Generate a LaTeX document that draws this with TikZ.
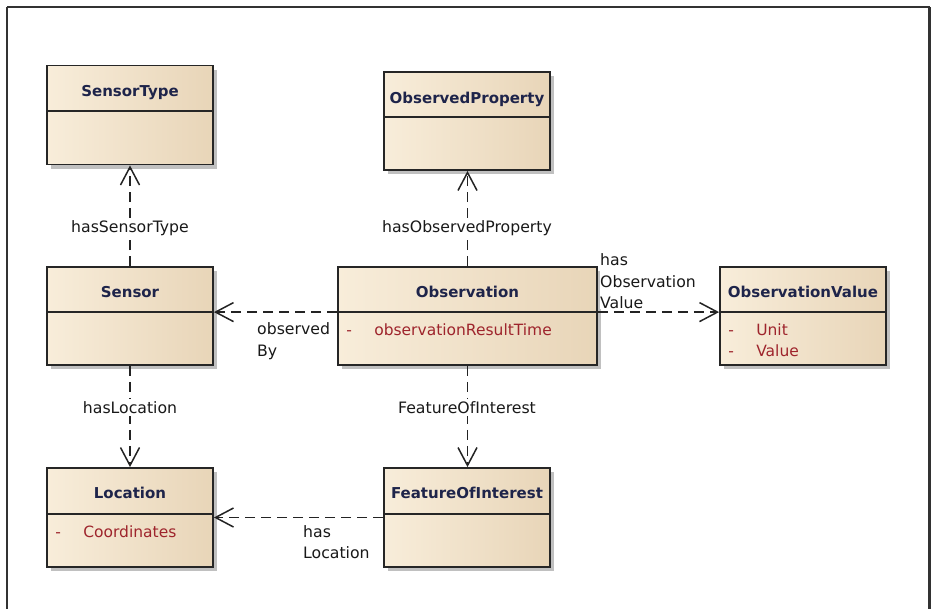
\documentclass[tikz,border=0pt]{standalone}
\usepackage{fontspec}
\setmainfont{DejaVu Sans}
\usetikzlibrary{arrows.meta,calc,shadows}

\definecolor{titleink}{RGB}{30,36,74}
\definecolor{attrink}{RGB}{158,36,44}
\definecolor{labelink}{RGB}{25,25,25}
\definecolor{boxleft}{RGB}{248,237,218}
\definecolor{boxmid}{RGB}{252,246,235}
\definecolor{boxright}{RGB}{232,213,184}
\definecolor{frameink}{RGB}{50,50,50}
\definecolor{shadowgray}{RGB}{192,192,192}
\definecolor{lineink}{RGB}{35,35,35}

\tikzset{
  umlbox/.style={rectangle, draw=black!85, line width=1.8pt, inner sep=0pt,
    minimum width=166pt, minimum height=98pt,
    left color=boxleft, middle color=boxmid, right color=boxright,
    drop shadow={shadow xshift=4pt, shadow yshift=-4pt, fill=shadowgray, opacity=1}},
  divider/.style={draw=black!85, line width=1.8pt},
  classname/.style={anchor=base, text=titleink, inner sep=0pt,
    font=\bfseries\fontsize{15}{18}\selectfont},
  attr/.style={anchor=base west, text=attrink, inner sep=0pt,
    font=\fontsize{15.5}{18}\selectfont},
  rolelabel/.style={text=labelink, fill=white, inner sep=2.5pt, align=left,
    font=\fontsize{15.7}{21.5}\selectfont},
  dep/.style={draw=lineink, line width=1.5pt, dash pattern=on 10pt off 6pt,
    -{Straight Barb[length=18pt, width=19pt, line width=1.5pt]}},
}

\begin{document}
\begin{tikzpicture}[x=1pt, y=-1pt]
  \useasboundingbox (0,0) rectangle (931,608);
  \begin{scope}
    \clip (0,0) rectangle (931,608);
    % outer diagram frame, open at the bottom
    \draw[frameink, line width=2pt] (7,7) -- (7,640);
    \draw[frameink, line width=2pt] (7,7) -- (929.5,7);
    \draw[frameink, line width=3pt] (929.5,7) -- (929.5,640);
  \end{scope}

  % class boxes
  \node[umlbox, minimum height=99pt] (sensortype) at (130,115) {};
  \node[umlbox] (observedproperty) at (467,121) {};
  \node[umlbox] (sensor) at (130,316) {};
  \node[umlbox, minimum width=259pt] (observation) at (467.5,316) {};
  \node[umlbox] (observationvalue) at (803,316) {};
  \node[umlbox, minimum height=99pt] (location) at (130,517.5) {};
  \node[umlbox, minimum height=99pt] (featureofinterest) at (467,517.5) {};

  % compartment dividers
  \foreach \b/\d in {sensortype/46, observedproperty/46, sensor/46,
                     observation/46, observationvalue/46,
                     location/47, featureofinterest/47}{
    \draw[divider] ($(\b.north west)+(0,\d)$) -- ($(\b.north east)+(0,\d)$);
  }

  % class names
  \node[classname] (nSensorType) at ($(sensortype.north)+(0,32)$) {SensorType};
  \node[classname] (nObservedProperty) at ($(observedproperty.north)+(0,32)$) {ObservedProperty};
  \node[classname] (nSensor) at ($(sensor.north)+(0,31.5)$) {Sensor};
  \node[classname] (nObservation) at ($(observation.north)+(0,31.5)$) {Observation};
  \node[classname] (nObservationValue) at ($(observationvalue.north)+(0,31.5)$) {ObservationValue};
  \node[classname] (nLocation) at ($(location.north)+(0,31.5)$) {Location};
  \node[classname] (nFeatureOfInterest) at ($(featureofinterest.north)+(0,31.5)$) {FeatureOfInterest};

  % attributes
  \node[attr] (aTimeDash) at ($(observation.north west)+(9,69)$) {-};
  \node[attr] (aTime) at ($(observation.north west)+(37,69)$) {observationResultTime};
  \node[attr] (aUnitDash) at ($(observationvalue.north west)+(9,69)$) {-};
  \node[attr] (aUnit) at ($(observationvalue.north west)+(37,69)$) {Unit};
  \node[attr] (aValueDash) at ($(observationvalue.north west)+(9,90.5)$) {-};
  \node[attr] (aValue) at ($(observationvalue.north west)+(37,90.5)$) {Value};
  \node[attr] (aCoordDash) at ($(location.north west)+(9,70)$) {-};
  \node[attr] (aCoord) at ($(location.north west)+(37,70)$) {Coordinates};

  % anchor points on the observation divider line
  \coordinate (obsLeft) at ($(observation.north west)+(0,46)$);
  \coordinate (obsRight) at ($(observation.north east)+(0,46)$);

  % dependencies
  \draw[dep] (sensor) -- (sensortype);
  \draw[dep] (observation) -- (observation.north |- observedproperty.south);
  \draw[dep] (obsLeft) -- (obsLeft -| sensor.east);
  \draw[dep] (obsRight) -- (obsRight -| observationvalue.west);
  \draw[dep] (sensor) -- (location);
  \draw[dep] (observation.south) -- (observation.south |- featureofinterest.north);
  \draw[dep] (featureofinterest) -- (location);

  % role labels
  \node[rolelabel, anchor=base] (lSensorType) at (130,232) {hasSensorType};
  \node[rolelabel, anchor=base] (lObservedProperty) at (467,232) {hasObservedProperty};
  \node[rolelabel, anchor=base] (lHasLocation) at (130,413) {hasLocation};
  \node[rolelabel, anchor=base] (lFeature) at (467,413) {FeatureOfInterest};
  \node[rolelabel, anchor=north west, inner sep=0pt] (lObservedBy) at (257,322.5) {observed\\By};
  \node[rolelabel, anchor=north west, inner sep=0pt] (lObsValue) at (600,253.5) {has\\Observation\\Value};
  \node[rolelabel, anchor=north west, inner sep=0pt] (lFoiLocation) at (303,525) {has\\Location};
\end{tikzpicture}
\end{document}
